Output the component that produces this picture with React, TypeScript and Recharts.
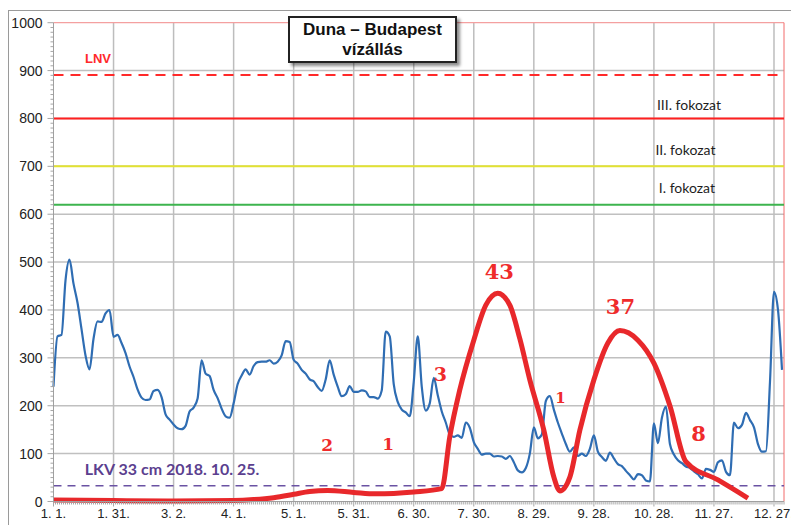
import { ComposedChart, Line, XAxis, YAxis, ReferenceLine, ReferenceDot, ReferenceArea } from "recharts";

// daily readings of the Budapest gauge, one every second day from 1 Jan
const LEVEL_STEP_DAYS = 2;
const levels = [
  240, 345, 348, 462, 505, 455, 415, 360, 305, 276,
  340, 376, 375, 393, 400, 344, 348, 331, 310, 282,
  260, 234, 217, 212, 213, 231, 233, 218, 182, 171,
  161, 153, 151, 158, 188, 196, 215, 295, 267, 262,
  233, 216, 194, 178, 175, 205, 245, 263, 276, 265,
  283, 291, 292, 292, 295, 288, 292, 305, 335, 333,
  296, 288, 275, 267, 255, 251, 239, 231, 255, 295,
  265, 240, 220, 224, 241, 229, 229, 232, 230, 218,
  218, 215, 232, 355, 345, 245, 208, 192, 186, 178,
  250, 345, 240, 190, 205, 258, 222, 188, 165, 140,
  135, 138, 133, 165, 154, 124, 110, 98, 100, 100,
  94, 95, 94, 89, 95, 82, 65, 61, 70, 100,
  155, 132, 140, 210, 220, 192, 165, 142, 120, 104,
  113, 95, 100, 95, 110, 138, 104, 93, 85, 102,
  90, 78, 74, 64, 55, 46, 57, 55, 44, 42,
  163, 122, 175, 198, 120, 98, 86, 80, 73, 70,
  63, 57, 48, 68, 66, 62, 82, 86, 62, 55,
  165, 153, 160, 185, 170, 155, 120, 104, 105, 250,
  438, 400, 275,
];

// red overlay curve
const redDays = [0, 30, 60, 90, 100, 110, 120, 128, 137, 150, 161, 180, 194, 198, 203, 210, 216, 222, 228, 233, 238, 245, 250, 253, 258, 263, 270, 277, 283, 292, 300, 308, 316, 332, 347];
const redValues = [3, 2, 1, 2, 4, 8, 15, 21, 23, 19, 16, 20, 27, 135, 233, 337, 410, 435, 410, 340, 254, 149, 51, 22, 51, 149, 254, 331, 357, 337, 289, 200, 83, 45, 7];

const monthTickDays = [0, 30, 60, 90, 120, 150, 180, 210, 240, 270, 300, 330, 360];
const monthTickLabels = ["1. 1.", "1. 31.", "3. 2.", "4. 1.", "5. 1.", "5. 31.", "6. 30.", "7. 30.", "8. 29.", "9. 28.", "10. 28.", "11. 27.", "12. 27."];
const yMajorTicks = [0, 100, 200, 300, 400, 500, 600, 700, 800, 900, 1000];

const LNV = 891;
const LKV = 33;
const stages = [
  { name: "III. fokozat", value: 800, color: "#ff1f1f" },
  { name: "II. fokozat", value: 700, color: "#e2e232" },
  { name: "I. fokozat", value: 620, color: "#3db44e" },
];

// red counts written next to the curve: [day, level, text, size]
const redNotes: [number, number, string, number][] = [
  [222.75, 481, "43", 21],
  [283.25, 408, "37", 21],
  [193.25, 266, "3", 19],
  [253.25, 216, "1", 15],
  [136.75, 118, "2", 17],
  [167.25, 120, "1", 17],
  [322.25, 141, "8", 21],
];

const xTicks = Array.from({ length: 366 }, (_, i) => i);
const yTicks = Array.from({ length: 101 }, (_, i) => i * 10);

const rows = new Map<number, any>();
levels.forEach((v, i) => rows.set(i * LEVEL_STEP_DAYS, { day: i * LEVEL_STEP_DAYS, level: v }));
redDays.forEach((d, i) => {
  const r = rows.get(d) ?? { day: d };
  r.count = redValues[i];
  rows.set(d, r);
});
const chartData = [...rows.values()].sort((a, b) => a.day - b.day);

const sans = "'Liberation Sans', Arial, sans-serif";
const calibri = "Lato, 'Open Sans', sans-serif";

function XTick(props: any) {
  const { x, y, payload } = props;
  const idx = monthTickDays.indexOf(payload.value);
  return (
    <g>
      <line x1={x} x2={x} y1={y} y2={y + (idx >= 0 ? 5 : 3)} stroke="#9c9c9c" strokeWidth={0.9} />
      {idx >= 0 && (
        <text x={x} y={y + 12} textAnchor="middle" dominantBaseline="central" fontSize={13} fill="#222" fontFamily={sans}>
          {monthTickLabels[idx]}
        </text>
      )}
    </g>
  );
}

function YTick(props: any) {
  const { x, y, payload } = props;
  const major = payload.value % 100 === 0;
  return (
    <g>
      <line x1={x - (major ? 6 : 3)} x2={x} y1={y} y2={y} stroke="#9c9c9c" strokeWidth={0.9} />
      {major && (
        <text x={x - 11} y={y} textAnchor="end" dominantBaseline="central" fontSize={14} fill="#222" fontFamily={sans}>
          {payload.value}
        </text>
      )}
    </g>
  );
}

const textShape = (text: string, style: any) => (p: any) => (
  <text x={p.cx} y={p.cy} textAnchor="middle" dominantBaseline="central" {...style}>
    {text}
  </text>
);

export default function App() {
  return (
    <div style={{ position: "relative", width: 791, height: 517 }}>
      <style>{`.recharts-surface { overflow: visible; }`}</style>
      <div
        style={{
          position: "absolute",
          left: 0,
          top: 2,
          width: 791,
          height: 520,
          borderTop: "1.5px solid #9a9a9a",
          borderLeft: "1.5px solid #9a9a9a",
          boxSizing: "border-box",
        }}
      />
      <ComposedChart
        width={791}
        height={517}
        data={chartData}
        margin={{ top: 14.7, right: 15, left: 0, bottom: 0 }}
      >
        <XAxis
          dataKey="day"
          type="number"
          domain={[0, 365]}
          ticks={xTicks}
          interval={0}
          tick={<XTick />}
          tickLine={false}
          tickSize={0}
          tickMargin={0}
          height={23.5}
          axisLine={{ stroke: "#a0a0a0", strokeWidth: 1 }}
        />
        <YAxis
          type="number"
          domain={[0, 1000]}
          ticks={yTicks}
          interval={0}
          tick={<YTick />}
          tickLine={false}
          tickSize={0}
          tickMargin={0}
          width={45.5}
          axisLine={{ stroke: "#a0a0a0", strokeWidth: 1 }}
        />

        {yMajorTicks.slice(1, -1).map((v) => (
          <ReferenceLine key={`h${v}`} y={v} stroke="#c0c0c0" strokeWidth={1.5} />
        ))}
        {monthTickDays.slice(1).map((d) => (
          <ReferenceLine key={`v${d}`} x={d} stroke="#bdbdbd" strokeWidth={1.5} />
        ))}
        <ReferenceArea x1={301} x2={355.5} y1={258} y2={560} fill="#ffffff" fillOpacity={1} stroke="none" />
        <ReferenceLine y={1000} stroke="#f4a0a0" strokeWidth={1.2} />
        <ReferenceLine x={365} stroke="#f26a6a" strokeWidth={1} />

        <ReferenceLine y={LNV} stroke="#ff2a2a" strokeWidth={2} strokeDasharray="10 7" />
        {stages.map((s) => (
          <ReferenceLine key={s.name} y={s.value} stroke={s.color} strokeWidth={2} />
        ))}
        <ReferenceLine y={LKV} stroke="#6a52a3" strokeWidth={1.6} strokeDasharray="8 6" />

        <Line
          dataKey="level"
          type="monotone"
          stroke="#2f6db3"
          strokeWidth={2.2}
          dot={false}
          connectNulls
          isAnimationActive={false}
        />
        <Line
          dataKey="count"
          type="monotone"
          stroke="#e8282b"
          strokeWidth={5}
          dot={false}
          connectNulls
          isAnimationActive={false}
        />

        <ReferenceDot
          x={22.25}
          y={926}
          r={1}
          shape={textShape("LNV", { fill: "#ff2a2a", fontSize: 13, fontWeight: 700, fontFamily: sans })}
        />
        <ReferenceDot
          x={317.5}
          y={830}
          r={1}
          shape={textShape("III. fokozat", { fill: "#1e1e1e", fontSize: 14, fontFamily: calibri })}
        />
        <ReferenceDot
          x={315.75}
          y={735}
          r={1}
          shape={textShape("II. fokozat", { fill: "#1e1e1e", fontSize: 14, fontFamily: calibri })}
        />
        <ReferenceDot
          x={316.5}
          y={655}
          r={1}
          shape={textShape("I. fokozat", { fill: "#1e1e1e", fontSize: 14, fontFamily: calibri })}
        />
        <ReferenceDot
          x={59.25}
          y={68}
          r={1}
          shape={textShape("LKV 33 cm 2018. 10. 25.", { fill: "#5b3f8f", fontSize: 16, fontWeight: 700, fontFamily: calibri })}
        />
        {redNotes.map(([d, v, t, size], i) => (
          <ReferenceDot
            key={`n${i}`}
            x={d}
            y={v}
            r={1}
            shape={textShape(t, { fill: "#ef2b2b", fontSize: size, fontWeight: 700, fontFamily: "'DejaVu Serif', serif" })}
          />
        ))}
      </ComposedChart>
      <div
        style={{
          position: "absolute",
          left: 280,
          top: 8,
          width: 169,
          height: 47,
          boxSizing: "border-box",
          border: "2px solid #222",
          background: "#fff",
          boxShadow: "3px 3px 3px rgba(0,0,0,0.45)",
          fontFamily: sans,
          fontWeight: 700,
          fontSize: 17,
          lineHeight: "20px",
          textAlign: "center",
          paddingTop: 2,
          color: "#111",
        }}
      >
        <div>Duna – Budapest</div>
        <div>vízállás</div>
      </div>
    </div>
  );
}
